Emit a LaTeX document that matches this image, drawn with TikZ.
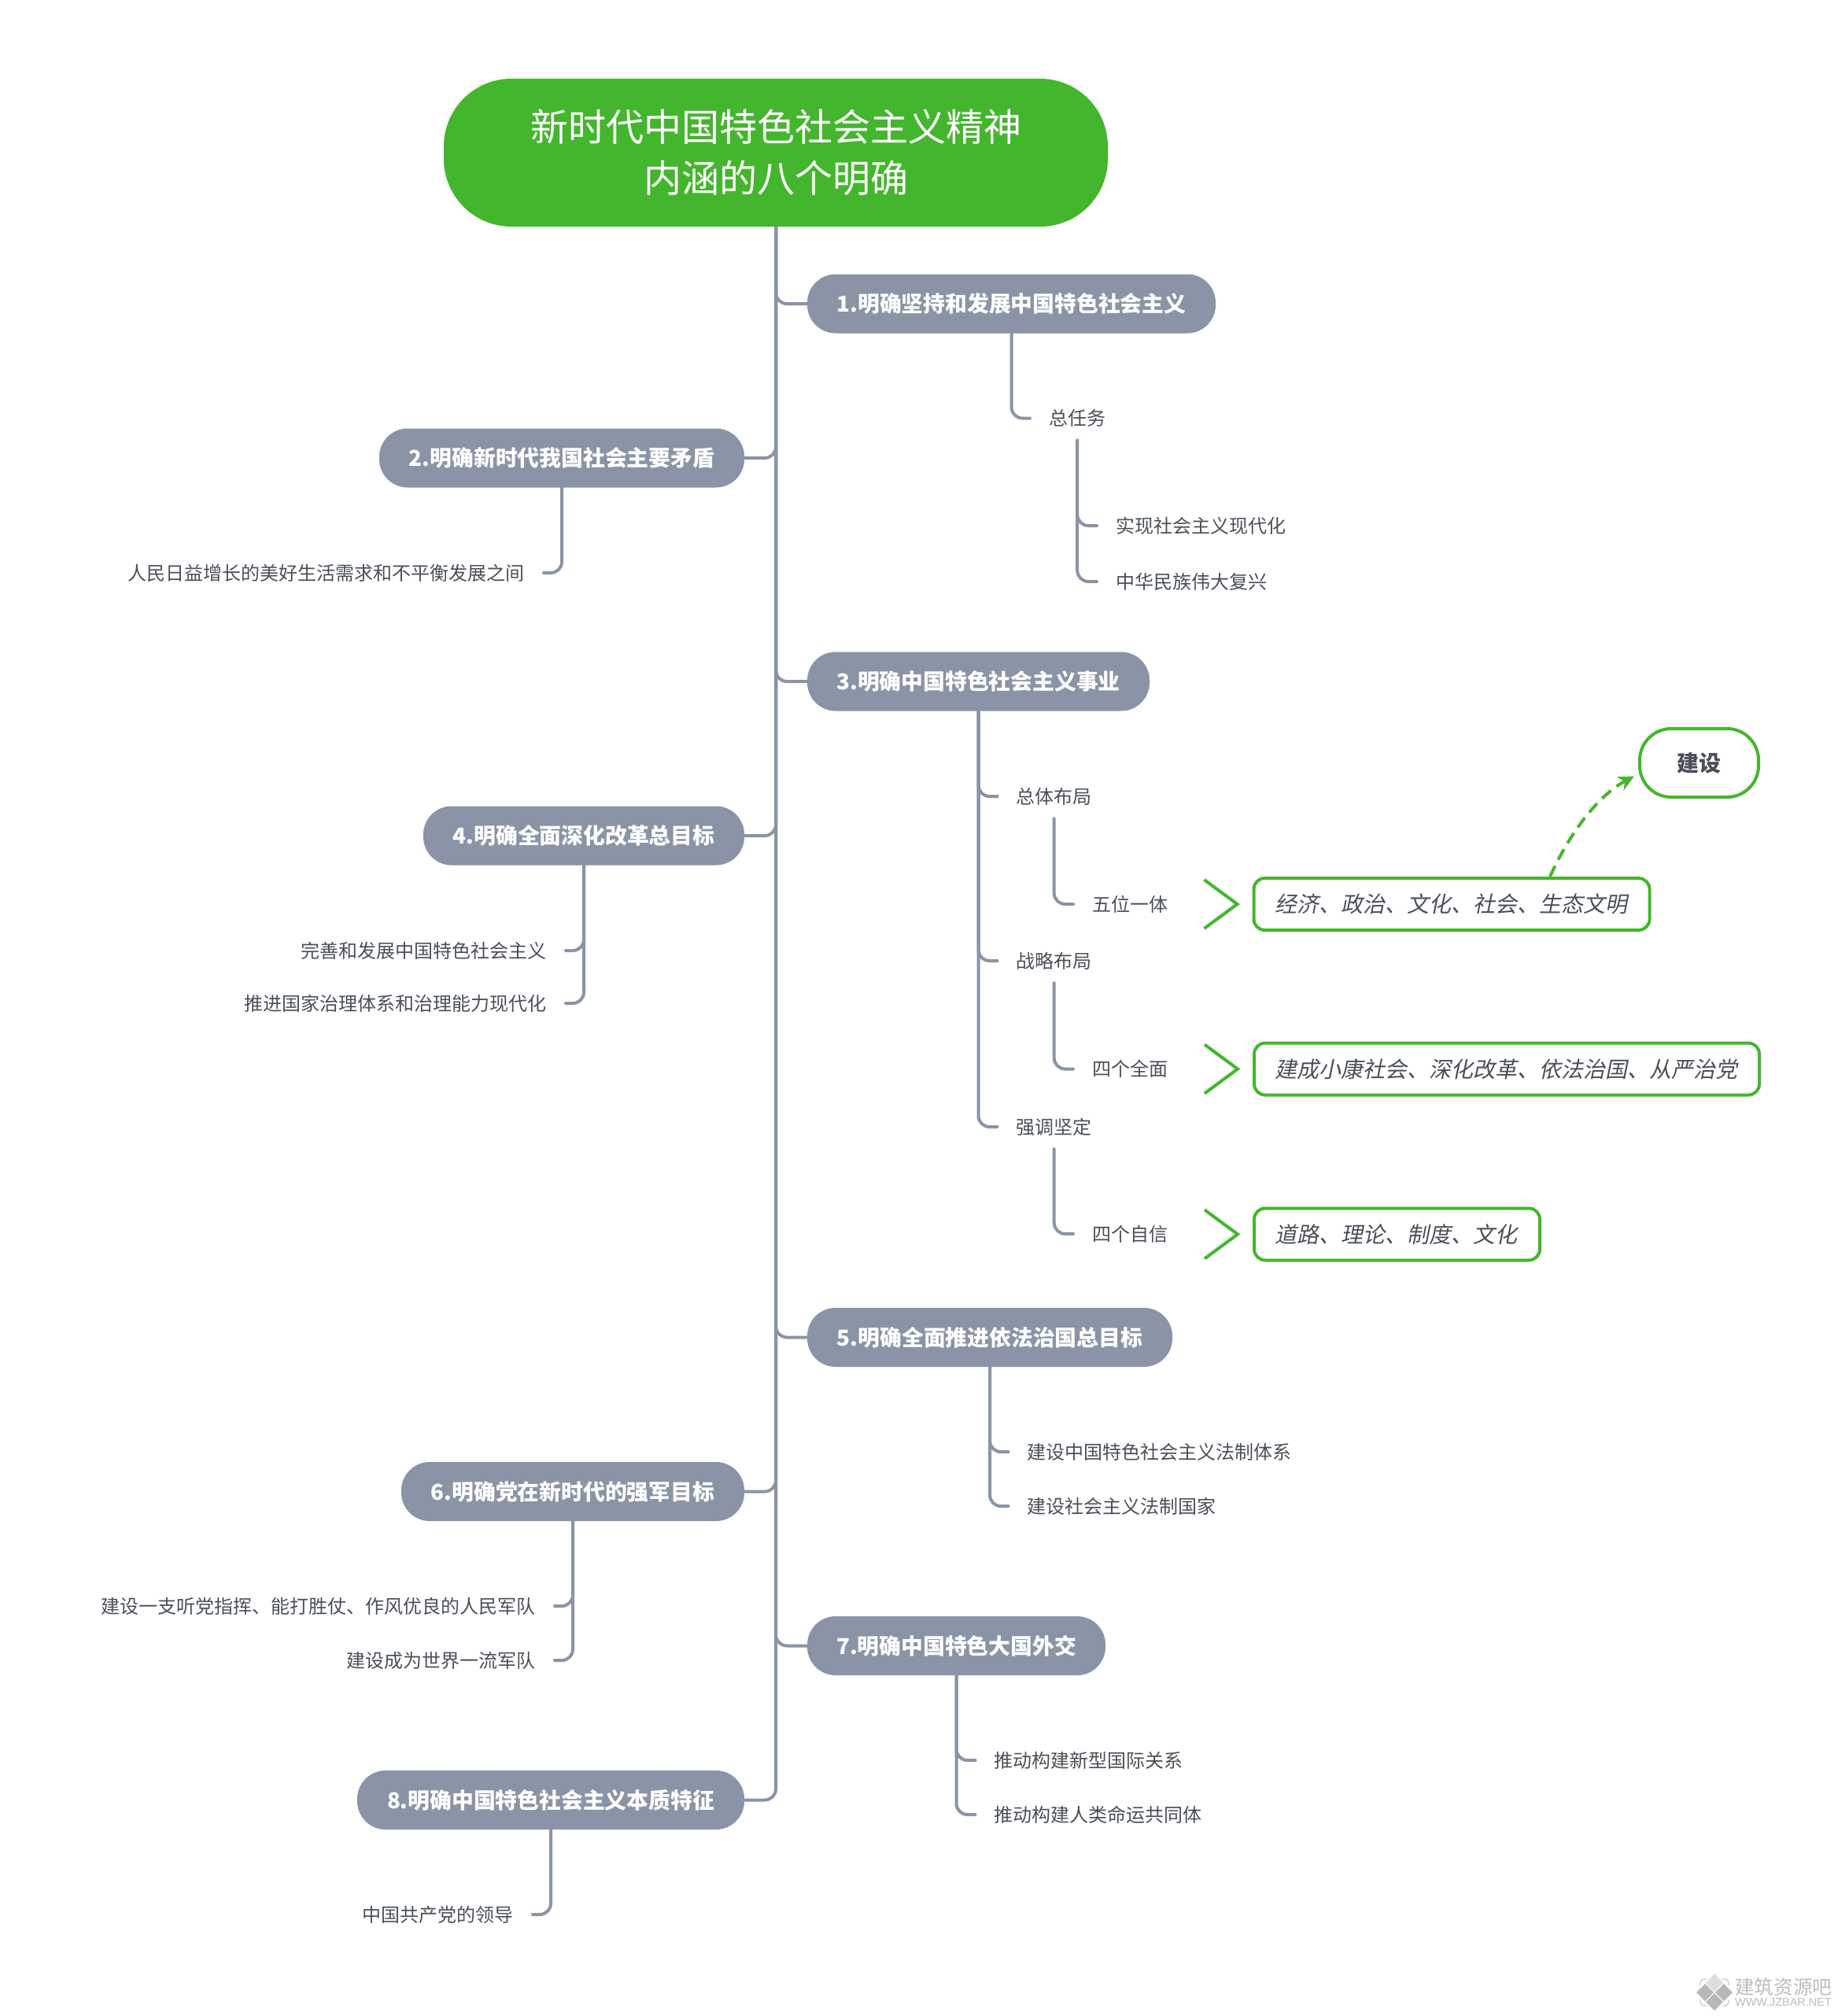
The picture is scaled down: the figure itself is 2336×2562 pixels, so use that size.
\documentclass[tikz,border=0pt]{standalone}
\usepackage{fontspec}
\setmainfont{Noto Sans CJK SC}
\newfontfamily\cjkit[FakeSlant=0.2]{Noto Sans CJK SC}
\newfontfamily\wmfont{Liberation Sans}
\usetikzlibrary{arrows.meta}
\definecolor{grn}{HTML}{44B62D}
\definecolor{slate}{HTML}{8A94A6}
\definecolor{ink}{HTML}{4A5058}
\newcommand{\lowered}[1]{\raisebox{-1.5pt}{#1}}
\tikzset{
  rootbox/.style={fill=grn,text=white,rounded corners=86pt,minimum width=844pt,minimum height=188pt,align=center,font=\fontsize{48}{65}\selectfont},
  pill/.style={fill=slate,text=white,rounded corners=36pt,minimum height=75pt,inner sep=0pt,font=\fontsize{27.8}{28}\selectfont\bfseries},
  leaf/.style={text=ink,minimum height=56pt,inner ysep=0pt,inner xsep=24pt,font=\fontsize{24}{24}\selectfont},
  note/.style={draw=grn,line width=4pt,text=ink,rounded corners=14pt,inner sep=0pt,minimum height=66pt,font=\cjkit\fontsize{28}{28}\selectfont},
  tag/.style={draw=grn,line width=4pt,text=ink,rounded corners=40pt,inner sep=0pt,minimum width=151pt,minimum height=87pt,font=\fontsize{28}{28}\selectfont\bfseries},
  link/.style={draw=slate,line width=4pt,rounded corners=14pt,line cap=round},
  trunk/.style={draw=slate,line width=4pt,rounded corners=14pt},
  chev/.style={draw=grn,line width=4pt},
  rel/.style={draw=grn,line width=4pt,dash pattern=on 15pt off 9pt,-{Stealth[length=20pt,width=19pt]}},
  wmdia/.style={fill=black!28,draw=none},
  wmtext/.style={text=black!26,inner sep=0pt}
}
\begin{document}
\begin{tikzpicture}[x=1pt,y=-1pt]
\useasboundingbox (0,0) rectangle (2336,2562);
\fill[white] (0,0) rectangle (2336,2562);
% main nodes
\node[rootbox] (root) at (986,194) {新时代中国特色社会主义精神\\内涵的八个明确};
\node[pill,minimum width=519pt] (n1) at (1285.5,386) {\lowered{1.明确坚持和发展中国特色社会主义}};
\node[pill,minimum width=464pt] (n2) at (714,582) {\lowered{2.明确新时代我国社会主要矛盾}};
\node[pill,minimum width=435pt] (n3) at (1243.5,866) {\lowered{3.明确中国特色社会主义事业}};
\node[pill,minimum width=408pt] (n4) at (742,1062) {\lowered{4.明确全面深化改革总目标}};
\node[pill,minimum width=464pt] (n5) at (1258,1699.5) {\lowered{5.明确全面推进依法治国总目标}};
\node[pill,minimum width=436pt] (n6) at (728,1895.5) {\lowered{6.明确党在新时代的强军目标}};
\node[pill,minimum width=379pt] (n7) at (1215.5,2091.5) {\lowered{7.明确中国特色大国外交}};
\node[pill,minimum width=492pt] (n8) at (700,2287.5) {\lowered{8.明确中国特色社会主义本质特征}};
% leaves
\node[leaf,anchor=west] (zrw) at (1309,531.5) {总任务};
\node[leaf,anchor=west] (a1) at (1394,668) {实现社会主义现代化};
\node[leaf,anchor=west] (a2) at (1394,739) {中华民族伟大复兴};
\node[leaf,anchor=east] (b1) at (691,728) {人民日益增长的美好生活需求和不平衡发展之间};
\node[leaf,anchor=west] (c1) at (1267.5,1012) {总体布局};
\node[leaf,anchor=west] (c2) at (1267.5,1221) {战略布局};
\node[leaf,anchor=west] (c3) at (1267.5,1432) {强调坚定};
\node[leaf,anchor=west] (d1) at (1364,1149) {五位一体};
\node[leaf,anchor=west] (d2) at (1364,1358.5) {四个全面};
\node[leaf,anchor=west] (d3) at (1364,1568) {四个自信};
\node[leaf,anchor=east] (e1) at (719,1208) {完善和发展中国特色社会主义};
\node[leaf,anchor=east] (e2) at (719,1275) {推进国家治理体系和治理能力现代化};
\node[leaf,anchor=west] (f1) at (1281.5,1845) {建设中国特色社会主义法制体系};
\node[leaf,anchor=west] (f2) at (1281.5,1914) {建设社会主义法制国家};
\node[leaf,anchor=east] (g1) at (705,2041) {建设一支听党指挥、能打胜仗、作风优良的人民军队};
\node[leaf,anchor=east] (g2) at (705,2110) {建设成为世界一流军队};
\node[leaf,anchor=west] (h1) at (1239.5,2237) {推动构建新型国际关系};
\node[leaf,anchor=west] (h2) at (1239.5,2306) {推动构建人类命运共同体};
\node[leaf,anchor=east] (i1) at (677,2433) {中国共产党的领导};
% notes
\node[note,minimum width=503pt] (p1) at (1845,1149) {\hspace*{-2pt}经济、政治、文化、社会、生态文明};
\node[note,minimum width=642pt] (p2) at (1915,1358.5) {\hspace*{-2pt}建成小康社会、深化改革、依法治国、从严治党};
\node[note,minimum width=363pt] (p3) at (1775.5,1568.5) {\hspace*{-2pt}道路、理论、制度、文化};
\node[tag] (js) at (2159.5,969.5) {建设};
% trunk
\foreach \t in {n1,n3,n5,n7}{\draw[trunk] (root.south) |- (\t.west);}
\foreach \t in {n2,n4,n6,n8}{\draw[trunk] (root.south) |- (\t.east);}
% branches
\draw[link] (n1.south) |- (zrw.west);
\draw[link] (zrw.south) |- (a1.west);
\draw[link] (zrw.south) |- (a2.west);
\draw[link] (n2.south) |- (b1.east);
\draw[link] (n3.south) |- (c1.west);
\draw[link] (n3.south) |- (c2.west);
\draw[link] (n3.south) |- (c3.west);
\draw[link] (c1.south) |- (d1.west);
\draw[link] (c2.south) |- (d2.west);
\draw[link] (c3.south) |- (d3.west);
\draw[link] (n4.south) |- (e1.east);
\draw[link] (n4.south) |- (e2.east);
\draw[link] (n5.south) |- (f1.west);
\draw[link] (n5.south) |- (f2.west);
\draw[link] (n6.south) |- (g1.east);
\draw[link] (n6.south) |- (g2.east);
\draw[link] (n7.south) |- (h1.west);
\draw[link] (n7.south) |- (h2.west);
\draw[link] (n8.south) |- (i1.east);
% chevrons
\foreach \b in {p1,p2,p3}{
  \draw[chev] ([xshift=-61pt,yshift=31pt]\b.west) -- ([xshift=-19pt]\b.west) -- ([xshift=-61pt,yshift=-31pt]\b.west);
}
% relationship
\draw[rel] ([xshift=125pt]p1.north) .. controls +(28,-62) and +(-42,22) .. ([xshift=-5pt,yshift=-17pt]js.west);
% watermark
\draw[black!22,line width=1.2pt,rounded corners=5pt] (2161,2515) rectangle (2197,2549);
\fill[white] (2179,2505) -- (2206,2532) -- (2179,2559) -- (2152,2532) -- cycle;
\fill[black!13] (2179,2508) -- (2190,2520) -- (2179,2531) -- (2168,2520) -- cycle;
\fill[wmdia] (2191,2521) -- (2202,2532) -- (2191,2543) -- (2180,2532) -- cycle;
\fill[wmdia] (2167,2521) -- (2178,2532) -- (2167,2543) -- (2156,2532) -- cycle;
\fill[wmdia] (2179,2533) -- (2190,2544) -- (2179,2555) -- (2168,2544) -- cycle;
\node[wmtext,anchor=west,font=\fontsize{24.6}{25}\selectfont] (wm1) at (2205,2525) {建筑资源吧};
\node[wmtext,anchor=west,font=\wmfont\fontsize{14.4}{15}\selectfont] (wm2) at (2205,2545) {WWW.JZBAR.NET};
\end{tikzpicture}
\end{document}
